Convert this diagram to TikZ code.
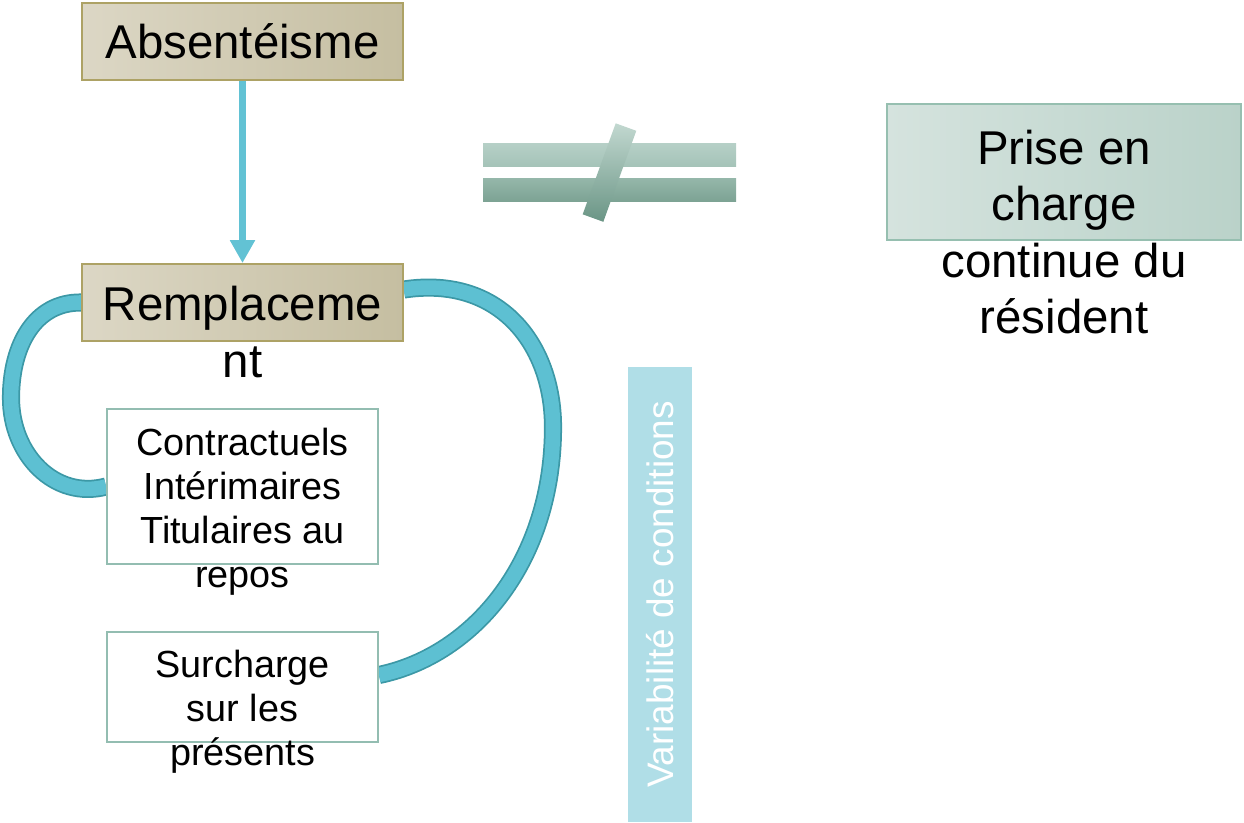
\documentclass[tikz,border=0pt]{standalone}
\usepackage{fontspec}
\setmainfont{Liberation Sans}
\usetikzlibrary{arrows.meta, positioning, calc, backgrounds}
\definecolor{tanlt}{HTML}{DCD7C5}
\definecolor{tandk}{HTML}{C5BEA1}
\definecolor{tanedge}{HTML}{ADA265}
\definecolor{sagelt}{HTML}{D5E3DE}
\definecolor{sagedk}{HTML}{BAD2C9}
\definecolor{sageedge}{HTML}{96BFB0}
\definecolor{boxedge}{HTML}{93BDB1}
\definecolor{loopfill}{HTML}{5DC0D2}
\definecolor{loopedge}{HTML}{3C98A6}
\definecolor{flow}{HTML}{62C2D4}
\definecolor{barfill}{HTML}{B0DEE7}
\definecolor{neqa}{HTML}{B6D0C7}
\definecolor{neqb}{HTML}{A5C3B8}
\definecolor{neqc}{HTML}{95B7AA}
\definecolor{neqd}{HTML}{7DA394}
\definecolor{slashlt}{HTML}{C2D8D0}
\definecolor{slashdk}{HTML}{6A9585}

\begin{document}
\begin{tikzpicture}[
  x=0.02cm, y=-0.02cm,
  every node/.style={text=black},
  tanbox/.style={draw=tanedge, line width=1.1pt, left color=tanlt, right color=tandk,
    inner sep=0pt, minimum width=6.42cm, minimum height=1.54cm},
  whitebox/.style={draw=boxedge, line width=1.1pt, fill=white, inner sep=0pt,
    minimum width=5.42cm},
  bigtxt/.style={font=\fontsize{27}{32}\selectfont, align=center, inner sep=0pt},
  smalltxt/.style={font=\fontsize{21.5}{25}\selectfont, align=center, inner sep=0pt},
  loopband/.style={draw=loopedge, line width=1pt, double=loopfill, double distance=8.3pt},
  flowarrow/.style={draw=flow, line width=4.5pt, -{Triangle[length=13pt, width=13.5pt]}},
]

\useasboundingbox (0,0) rectangle (1244,822);

% Left column
\node[tanbox, bigtxt] (abs) at (242.5,41.5) {Absentéisme};
\node[tanbox] (rmp) at (242.5,302.5) {};
\node[bigtxt] (rmptxt) at (242.5,332) {Remplaceme\\nt};
\node[whitebox, minimum height=3.1cm] (ctr) at (242.5,486.5) {};
\node[smalltxt] (ctrtxt) at (242.5,512) {Contractuels\\Intérimaires\\Titulaires au\\repos};
\node[whitebox, minimum height=2.2cm] (sur) at (242.5,687) {};
\node[smalltxt] (surtxt) at (242.5,712) {Surcharge\\sur les\\présents};

\draw[flowarrow] (abs) -- (rmp);

% Loops
\begin{scope}[on background layer]
\draw[loopband] (rmp.west) .. controls (35,302) and (11,345) .. (11,398)
  .. controls (11,455) and (55,500) .. (ctr.west);
\draw[loopband] ($(rmp.east)+(0,-13)$) .. controls (500,275) and (553,345) .. (553,427)
  .. controls (553,560) and (475,655) .. ($(sur.east)+(0,-12)$);
\end{scope}

% Not equal sign
\shade[top color=neqa, bottom color=neqb] (483,143) rectangle (736,166);
\shade[top color=neqc, bottom color=neqd] (483,178) rectangle (736,201);
\shade[top color=slashlt, bottom color=slashdk]
  (615.7,123.3) -- (636.3,130.8) -- (603.3,221.8) -- (582.7,214.3) -- cycle;

% Right side
\node[draw=sageedge, line width=1.1pt, left color=sagelt, right color=sagedk,
  minimum width=7.08cm, minimum height=2.72cm, inner sep=0pt] (prise) at (1064,172) {};
\node[bigtxt] (prisetxt) at (1064,232) {Prise en\\charge\\continue du\\résident};

% Vertical bar
\node[rotate=90, fill=barfill, inner sep=0pt, minimum width=9.1cm, minimum height=1.28cm,
  text=white, font=\fontsize{21}{25}\selectfont] (var) at (660,594.5) {Variabilité de conditions};

\end{tikzpicture}
\end{document}
